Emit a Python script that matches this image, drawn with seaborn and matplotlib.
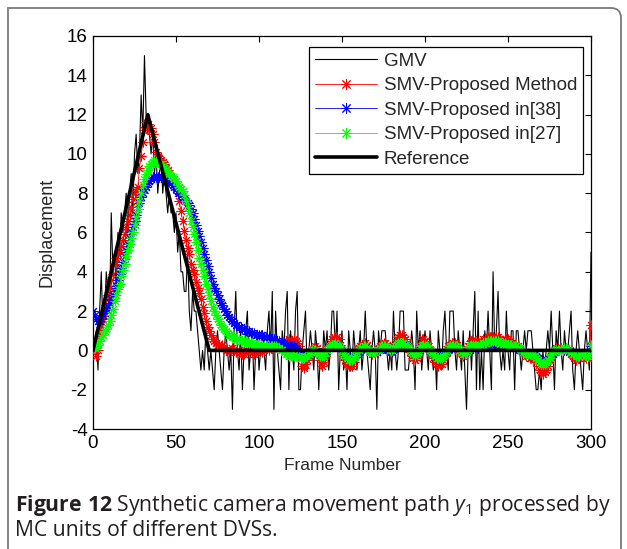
import numpy as np
import pandas as pd
import matplotlib
matplotlib.use("Agg")
import matplotlib.pyplot as plt
import seaborn as sns
from matplotlib.path import Path
from matplotlib.patches import PathPatch

# ---------------- data ----------------
gmv = [
    0, 0, 1, -1, 2, 4, 1, 2, 4, 3,
    2, 7, 4, 5, 3, 6, 5, 7, 6, 7,
    8, 6, 8, 9, 7, 10, 11, 9, 10, 13,
    11, 15, 12, 11, 11, 10, 11, 9, 10, 8,
    9, 10, 8, 9, 8, 7, 8, 7, 7, 6,
    7, 5, 6, 4, 4, 3, 3, 5, 2, 1,
    3, 2, 2, 1, 0, -1, 0, -1, 1, 0,
    -1,
    0, -1, -2, 0, 1, 0, -1, -2, 0, 1,
    0, -1, 0, -3, 1, 3, 0, -1, 1, -2,
    0, 1, 2, -1, 0, 1, -2, 0, 1, -1,
    0, 1, 0, -1, 1, 2, 0, 3, -3, 2,
    0, -1, -2, 1, 0, 2, 3, -2, 1, 0,
    -1, 2, 3, -2, -2, 0, 1, 2, -1, 0,
    1, 0, -1, 1, 0, -2, 0, -1, 1, 0,
    1, -1, 0, 2, 2, 0, 2, -2, 0, 1,
    -1, 0, -2, 1, 0, -1, 1, 0, -1, 0,
    1, -1, 0, 2, 0, -1, -2, 0, 1, 0,
    -3, 1, 0, 1, 1, 1, 0, -1, 0, -1,
    2, 0, -1, 0, 2, 2, 2, -1, -1, -1,
    0, 1, 0, -2, 2, 0, 1, -1, 0, 1,
    0, -1, 1, 0, -1, 0, -2, 1, 0, -1,
    1, 2, 0, -1, 2, 2, 2, 0, -1, 1,
    0, -1, 1, -1, -3, 0, 1, -1, 1, 3,
    -2, 2, -2, 0, -2, 1, 0, 2, 0, -2,
    4, 0, 1, 3, 0, -1, 0, -1, 2, 0,
    -1, 1, 1, -2, 1, 1, 0, -1, 0, 1,
    0, 1, 1, 1, 0, -1, -2, -2, -1, -2,
    0, -1, 0, 1, 0, 2, 0, -2, 1, 0,
    2, 0, -1, 1, 0, 0, 1, 2, -1, -2,
    0, 1, 0, -1, -2, 0, 1, 0, -1, 5,
]

smv_proposed = [
    0.2, 0.0, -0.3, 0.0, 0.8, 1.2, 1.6, 1.9, 2.3, 2.8,
    3.2, 3.6, 3.9, 4.4, 4.7, 4.9, 5.0, 5.3, 5.6, 5.9,
    6.3, 6.6, 6.9, 7.3, 7.7, 8.0, 8.1, 8.3, 9.3, 9.9,
    10.6, 11.2, 11.6, 11.5, 11.2, 11.3, 11.0, 10.6, 10.1, 9.9,
    9.8, 9.7, 9.6, 9.5, 9.3, 9.2, 9.0, 8.9, 8.7, 8.5,
    8.3, 8.0, 7.6, 7.1, 6.6, 6.1, 5.6, 5.2, 4.9, 4.4,
    4.1, 3.9, 3.5, 3.2, 2.9, 2.6, 2.2, 1.9, 1.5, 1.2,
    1.0, 0.8, 0.6, 0.5, 0.4, 0.3, 0.3, 0.2, 0.3, 0.1,
    0.0, 0.0, -0.1, 0.0, 0.1, 0.0, -0.1, 0.0, 0.0, -0.1,
    -0.2, -0.2, -0.1, 0.0, 0.1, 0.0, -0.1, -0.2, -0.1, 0.0,
    0.1, 0.0, -0.1, 0.0, 0.2, 0.1, 0.0, 0.1, 0.2, 0.3,
    0.3, 0.2, 0.1, 0.2, 0.3, 0.4, 0.5, 0.5, 0.6, 0.5,
    0.5, 0.6, 0.5, 0.4, 0.2, -0.3, -0.8, -0.9, -0.7, -0.5,
    -0.3, -0.1, 0.0, 0.1, 0.2, 0.1, -0.2, -0.5, -0.8, -0.6,
    -0.3, 0.0, 0.2, 0.4, 0.6, 0.7, 0.6, 0.7, 0.6, 0.3,
    0.0, -0.3, -0.5, -0.7, -0.8, -0.8, -0.8, -0.6, -0.3, 0.0,
    0.1, 0.2, 0.3, 0.3, 0.4, 0.3, 0.1, -0.1, -0.2, -0.1,
    -0.2, -0.1, 0.1, 0.2, 0.3, 0.4, 0.4, 0.3, 0.1, -0.1,
    -0.1, 0.2, 0.4, 0.6, 0.7, 0.8, 0.8, 0.7, 0.6, 0.4,
    0.2, -0.1, -0.3, -0.4, -0.5, -0.4, -0.1, 0.3, 0.6, 0.6,
    0.5, 0.4, 0.2, 0.0, -0.2, -0.4, -0.6, -0.7, -0.8, -0.7,
    -0.7, -0.5, -0.3, 0.0, 0.2, 0.3, 0.4, 0.4, 0.4, 0.3,
    0.1, -0.1, -0.2, -0.3, -0.2, -0.1, 0.2, 0.4, 0.5, 0.6,
    0.5, 0.4, 0.3, 0.4, 0.5, 0.6, 0.6, 0.6, 0.7, 0.7,
    0.7, 0.7, 0.6, 0.7, 0.7, 0.6, 0.5, 0.5, 0.6, 0.6,
    0.6, 0.5, 0.4, 0.3, 0.3, 0.2, 0.2, 0.1, 0.0, -0.1,
    -0.2, -0.3, -0.3, -0.4, -0.4, -0.3, -0.4, -0.6, -0.8, -1.0,
    -1.1, -1.2, -1.1, -1.0, -0.8, -0.5, -0.3, -0.1, 0.0, 0.1,
    0.1, 0.0, 0.1, 0.0, 0.1, 0.1, 0.0, -0.1, -0.2, -0.3,
    -0.4, -0.5, -0.4, -0.4, -0.3, -0.2, -0.3, -0.4, -0.4, -0.3,
    1.3,
]

smv_in38 = [
    2.0, 1.8, 1.6, 1.5, 1.5, 1.6, 1.8, 1.9, 2.1, 2.2,
    2.4, 2.6, 2.8, 3.0, 3.3, 3.6, 3.9, 4.2, 4.5, 4.8,
    5.1, 5.4, 5.7, 6.0, 6.3, 6.6, 6.9, 7.2, 7.5, 7.8,
    8.0, 8.2, 8.3, 8.5, 8.6, 8.7, 8.8, 8.8, 8.8, 8.8,
    8.8, 8.8, 8.8, 8.7, 8.7, 8.6, 8.6, 8.5, 8.4, 8.3,
    8.2, 8.1, 8.0, 7.9, 7.8, 7.7, 7.6, 7.5, 7.4, 7.2,
    7.0, 6.7, 6.4, 6.1, 5.8, 5.5, 5.2, 4.9, 4.6, 4.3,
    4.0, 3.7, 3.4, 3.2, 3.0, 2.8, 2.6, 2.4, 2.3, 2.1,
    2.0, 1.8, 1.7, 1.6, 1.5, 1.4, 1.3, 1.3, 1.2, 1.2,
    1.1, 1.1, 1.0, 1.0, 1.0, 0.9, 0.9, 0.9, 0.8, 0.8,
    0.8, 0.8, 0.8, 0.7, 0.7, 0.7, 0.7, 0.6, 0.6, 0.6,
    0.5, 0.5, 0.5, 0.4, 0.4, 0.4, 0.3, 0.3, 0.3, 0.2,
    0.2, 0.2, 0.1, 0.0, -0.1, -0.2, -0.3, -0.3, -0.3, -0.3,
    -0.2, -0.1, -0.1, 0.0, 0.0, -0.1, -0.2, -0.3, -0.3, -0.2,
    -0.1, 0.0, 0.1, 0.2, 0.2, 0.3, 0.3, 0.3, 0.2, 0.1,
    0.0, -0.1, -0.2, -0.3, -0.4, -0.4, -0.4, -0.4, -0.3, -0.2,
    -0.1, 0.0, 0.1, 0.1, 0.2, 0.1, 0.0, -0.1, -0.1, -0.1,
    -0.1, -0.1, 0.0, 0.0, 0.1, 0.1, 0.1, 0.1, 0.0, 0.0,
    -0.1, 0.0, 0.1, 0.2, 0.3, 0.3, 0.3, 0.3, 0.3, 0.2,
    0.1, 0.0, -0.1, -0.2, -0.2, -0.2, -0.1, 0.0, 0.1, 0.2,
    0.2, 0.1, 0.1, 0.0, -0.1, -0.2, -0.2, -0.3, -0.3, -0.3,
    -0.3, -0.3, -0.2, -0.1, 0.0, 0.1, 0.1, 0.2, 0.2, 0.1,
    0.1, 0.0, -0.1, -0.1, -0.2, -0.1, -0.1, 0.0, 0.1, 0.2,
    0.2, 0.2, 0.1, 0.2, 0.2, 0.3, 0.3, 0.3, 0.3, 0.4,
    0.4, 0.4, 0.4, 0.4, 0.4, 0.3, 0.3, 0.3, 0.3, 0.3,
    0.2, 0.2, 0.2, 0.2, 0.1, 0.1, 0.1, 0.0, 0.0, -0.1,
    -0.1, -0.1, -0.2, -0.2, -0.2, -0.2, -0.2, -0.3, -0.4, -0.5,
    -0.5, -0.6, -0.6, -0.6, -0.5, -0.4, -0.3, -0.2, -0.1, 0.0,
    0.0, 0.0, 0.0, 0.0, 0.0, 0.0, 0.0, 0.0, -0.1, -0.1,
    -0.2, -0.2, -0.2, -0.2, -0.2, -0.2, -0.2, -0.2, -0.2, -0.2,
    0.2,
]

smv_in27 = [
    0.2, 0.1, 0.2, 0.3, 0.5, 0.7, 0.8, 1.0, 1.1, 1.3,
    1.5, 1.8, 2.1, 2.5, 2.8, 3.1, 3.4, 3.8, 4.1, 4.4,
    4.8, 5.1, 5.4, 5.7, 6.0, 6.4, 6.8, 7.2, 7.6, 8.0,
    8.4, 8.7, 9.0, 9.2, 9.4, 9.5, 9.6, 9.7, 9.6, 9.6,
    9.5, 9.5, 9.4, 9.3, 9.2, 9.1, 9.0, 8.9, 8.8, 8.7,
    8.6, 8.4, 8.3, 8.2, 8.1, 7.9, 7.6, 7.3, 7.0, 6.6,
    6.3, 5.9, 5.5, 5.1, 4.7, 4.4, 4.1, 3.8, 3.4, 3.1,
    2.8, 2.5, 2.2, 2.0, 1.8, 1.6, 1.5, 1.3, 1.2, 1.1,
    1.0, 0.9, 0.8, 0.8, 0.7, 0.7, 0.6, 0.6, 0.6, 0.5,
    0.5, 0.5, 0.5, 0.4, 0.4, 0.4, 0.4, 0.3, 0.3, 0.3,
    0.3, 0.3, 0.2, 0.2, 0.2, 0.2, 0.2, 0.2, 0.2, 0.2,
    0.2, 0.1, 0.1, 0.0, 0.0, -0.1, -0.2, -0.2, -0.3, -0.3,
    -0.3, -0.3, -0.3, -0.3, -0.3, -0.4, -0.4, -0.4, -0.3, -0.3,
    -0.2, -0.1, 0.0, 0.0, 0.0, -0.1, -0.2, -0.3, -0.3, -0.3,
    -0.1, 0.0, 0.1, 0.2, 0.3, 0.3, 0.4, 0.3, 0.2, 0.1,
    0.0, -0.2, -0.3, -0.4, -0.5, -0.5, -0.5, -0.4, -0.3, -0.1,
    0.0, 0.1, 0.1, 0.2, 0.2, 0.1, 0.0, -0.1, -0.1, -0.1,
    -0.1, 0.0, 0.0, 0.1, 0.2, 0.2, 0.2, 0.1, 0.1, 0.0,
    0.0, 0.1, 0.2, 0.3, 0.4, 0.4, 0.4, 0.4, 0.3, 0.2,
    0.1, 0.0, -0.1, -0.2, -0.3, -0.2, -0.1, 0.1, 0.2, 0.3,
    0.3, 0.2, 0.1, 0.0, -0.1, -0.2, -0.3, -0.4, -0.4, -0.4,
    -0.4, -0.3, -0.2, 0.0, 0.1, 0.2, 0.2, 0.3, 0.2, 0.2,
    0.1, 0.0, -0.1, -0.2, -0.2, -0.1, 0.0, 0.2, 0.3, 0.3,
    0.3, 0.2, 0.2, 0.3, 0.3, 0.4, 0.4, 0.4, 0.5, 0.5,
    0.5, 0.5, 0.5, 0.5, 0.5, 0.4, 0.4, 0.4, 0.4, 0.3,
    0.3, 0.3, 0.3, 0.2, 0.2, 0.2, 0.1, 0.1, 0.0, -0.1,
    -0.1, -0.2, -0.2, -0.2, -0.2, -0.2, -0.3, -0.4, -0.5, -0.6,
    -0.7, -0.7, -0.7, -0.6, -0.5, -0.4, -0.2, -0.1, 0.0, 0.0,
    0.0, 0.0, 0.0, 0.0, 0.1, 0.1, 0.0, 0.0, -0.1, -0.2,
    -0.2, -0.3, -0.3, -0.3, -0.2, -0.2, -0.2, -0.3, -0.3, -0.2,
    0.3,
]

reference_frames = [0, 33, 70, 300]
reference_values = [0, 12, 0, 0]

x_ticks = [0, 50, 100, 150, 200, 250, 300]
y_ticks = [-4, -2, 0, 2, 4, 6, 8, 10, 12, 14, 16]
labels = ["GMV", "SMV-Proposed Method", "SMV-Proposed in[38]",
          "SMV-Proposed in[27]", "Reference"]

# ---------------- style ----------------
sns.set_style("white")
plt.rcParams["font.family"] = ["Liberation Sans", "DejaVu Sans"]
plt.rcParams["axes.unicode_minus"] = False
plt.rcParams["mathtext.fontset"] = "custom"
plt.rcParams["mathtext.rm"] = "Open Sans"
plt.rcParams["mathtext.it"] = "Open Sans:italic"
plt.rcParams["mathtext.bf"] = "Open Sans:bold"

W, H = 627, 549
fig = plt.figure(figsize=(W / 100, H / 100), dpi=100)
fig.patch.set_facecolor("white")
ax = fig.add_axes([93 / W, 1 - 429 / H, (591 - 93) / W, (429 - 36) / H])

asterisk = (8, 2, 0)

def frames(arr):
    return np.arange(len(arr))

sns.lineplot(x=frames(gmv), y=gmv, ax=ax, color="black", linewidth=0.8,
             label=labels[0], zorder=2)
for arr, col, lab, z in [(smv_proposed, "#ff0000", labels[1], 3),
                          (smv_in38, "#0000ff", labels[2], 4),
                          (smv_in27, "#00ff00", labels[3], 5)]:
    sns.lineplot(x=frames(arr), y=arr, ax=ax, color=col, linewidth=0.6,
                 marker=asterisk, markersize=7, markeredgecolor=col,
                 markerfacecolor=col, markeredgewidth=0.7,
                 label=lab, zorder=z)
sns.lineplot(x=reference_frames, y=reference_values, ax=ax, color="black",
             linewidth=2.6, label=labels[4], zorder=6)

ax.set_xlim(0, 300)
ax.set_ylim(-4, 16)
ax.set_xticks(x_ticks)
ax.set_yticks(y_ticks)
ax.tick_params(direction="in", length=4, width=0.8, top=True, right=True,
               labelsize=13.5, colors="black", pad=4)
for s in ax.spines.values():
    s.set_visible(True)
    s.set_color("black")
    s.set_linewidth(0.9)
ax.set_xlabel("Frame Number", fontsize=12.5, labelpad=4.5)
ax.set_ylabel("Displacement", fontsize=13, labelpad=8)

leg = ax.legend(loc="upper right", bbox_to_anchor=(0.984, 0.972),
                borderaxespad=0, fontsize=13.5, frameon=True, fancybox=False,
                edgecolor="black", framealpha=1, numpoints=1,
                handlelength=3.3, handletextpad=0.37, labelspacing=0.39,
                borderpad=0.31)
leg.get_frame().set_linewidth(0.9)
for h in leg.get_lines():
    h.set_markersize(8)

# caption
fig.text(15 / W, 1 - 505 / H,
         r"$\mathbf{Figure\ 12}$ Synthetic camera movement path $y_1$ processed by",
         fontsize=15.2, family="Open Sans", va="center", ha="left", color="#231f20")
fig.text(15 / W, 1 - 530 / H, "MC units of different DVSs.",
         fontsize=15.2, family="Open Sans", va="center", ha="left", color="#231f20")

# outer frame (square top-left, rounded top-right)
tr = fig.dpi_scale_trans
def px(xp, yp):
    return (xp / 100, (H - yp) / 100)
verts = [px(8, 560), px(8, 8), px(611, 8), px(621, 8), px(621, 18), px(621, 560)]
codes = [Path.MOVETO, Path.LINETO, Path.LINETO, Path.CURVE3, Path.CURVE3, Path.LINETO]
fig.patches.append(PathPatch(Path(verts, codes), transform=tr, fill=False,
                             edgecolor="#7a7a7a", linewidth=1.3))

fig.savefig("out.png", dpi=100)
